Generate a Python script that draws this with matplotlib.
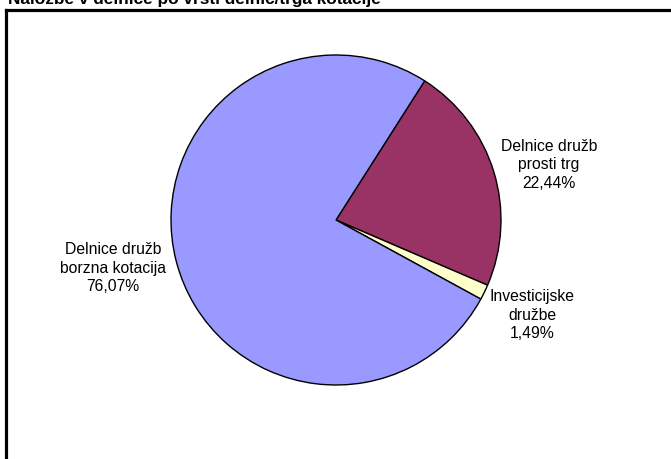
import matplotlib
matplotlib.use("agg")
import matplotlib.pyplot as plt

plt.rcParams["font.family"] = ["Liberation Sans", "DejaVu Sans"]

labels = ["Delnice družb\nprosti trg", "Investicijske\ndružbe", "Delnice družb\nborzna kotacija"]
values = [22.44, 1.49, 76.07]
colors = ["#993366", "#FFFFCC", "#9999FF"]
title = "Naložbe v delnice po vrsti delnic/trga kotacije"

W, H = 671, 459
fig = plt.figure(figsize=(W / 100, H / 100), dpi=100)
ax = fig.add_axes([0, 0, 1, 1])

ax.pie(values, colors=colors, startangle=57.5, counterclock=False,
       center=(336, H - 220), radius=165,
       wedgeprops=dict(edgecolor="black", linewidth=1.0))

# label positions (pixels from top-left)
label_pos = [(549, 165), (532, 315), (113, 268)]
for lab, v, (x, y) in zip(labels, values, label_pos):
    txt = lab + "\n" + ("%.2f%%" % v).replace(".", ",")
    ax.text(x, H - y, txt, ha="center", va="center", fontsize=11.3,
            linespacing=1.3)

# chart frame (clipped on the right and bottom)
ax.plot([5.7, 5.7], [0, H - 10.3], color="black", lw=2.3, clip_on=False,
        solid_capstyle="projecting")
ax.plot([5.7, W], [H - 10.3, H - 10.3], color="black", lw=2.3, clip_on=False,
        solid_capstyle="projecting")

ax.set_xlim(0, W)
ax.set_ylim(0, H)
ax.set_aspect("auto")
ax.axis("off")

fig.text(8 / W, 1 - 4.3 / H, title, fontsize=12.4, fontweight="bold",
         ha="left", va="baseline")

fig.savefig("out.png", dpi=100)
